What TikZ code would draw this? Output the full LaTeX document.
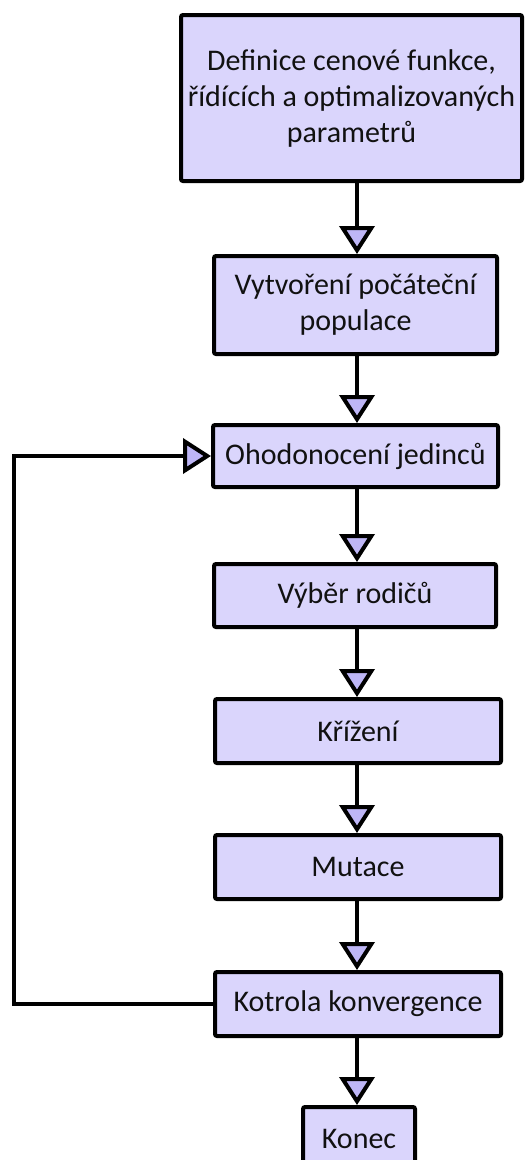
\documentclass[tikz,border=0pt]{standalone}
\usepackage{fontspec}
\setmainfont{Carlito}
\usetikzlibrary{arrows.meta}
\definecolor{boxfill}{HTML}{DAD5FC}
\definecolor{tipfill}{HTML}{BEB6F6}
\definecolor{ink}{HTML}{111111}
\begin{document}
\begin{tikzpicture}[x=1pt,y=-1pt,
  stage/.style={draw=black, fill=boxfill, line width=4pt, rounded corners=2pt,
    inner sep=0pt, align=center, text=ink, font=\fontsize{30}{36}\selectfont},
  flow/.style={line width=4pt, -{Triangle[width=35pt,length=28pt,fill=tipfill]}}
]
\useasboundingbox (0,0) rectangle (525,1160);

% process stages (outer sizes minus the stroke)
\node[stage, minimum width=341pt, minimum height=166pt] (def) at (351.5,98)
  {Definice cenové funkce,\\řídících a optimalizovaných\\parametrů};
\node[stage, minimum width=283pt, minimum height=98pt] (init) at (355.5,305)
  {Vytvoření počáteční\\populace};
\node[stage, minimum width=285pt, minimum height=62pt] (eval) at (355.5,456)
  {Ohodonocení jedinců};
\node[stage, minimum width=282pt, minimum height=63pt] (sel) at (355,595.5)
  {Výběr rodičů};
\node[stage, minimum width=286pt, minimum height=64pt] (cross) at (358,731)
  {Křížení};
\node[stage, minimum width=286pt, minimum height=64pt] (mut) at (358,867)
  {Mutace};
\node[stage, minimum width=286pt, minimum height=64pt] (conv) at (358,1004)
  {Kotrola konvergence};
\node[stage, minimum width=112pt, minimum height=64pt] (end) at (359,1139)
  {Konec};

% vertical spine and loop column
\coordinate (spine) at (357,0);
\coordinate (loopx) at (14,0);

\draw[flow] (def.south -| spine) -- (init.north -| spine);
\draw[flow] (init.south -| spine) -- (eval.north -| spine);
\draw[flow] (eval.south -| spine) -- (sel.north -| spine);
\draw[flow] (sel.south -| spine) -- (cross.north -| spine);
\draw[flow] (cross.south -| spine) -- (mut.north -| spine);
\draw[flow] (mut.south -| spine) -- (conv.north -| spine);
\draw[flow] (conv.south -| spine) -- (end.north -| spine);

% feedback loop back to evaluation
\draw[flow] (conv.west) -- (conv.west -| loopx) -- (eval.west -| loopx) -- (eval.west);
\end{tikzpicture}
\end{document}
